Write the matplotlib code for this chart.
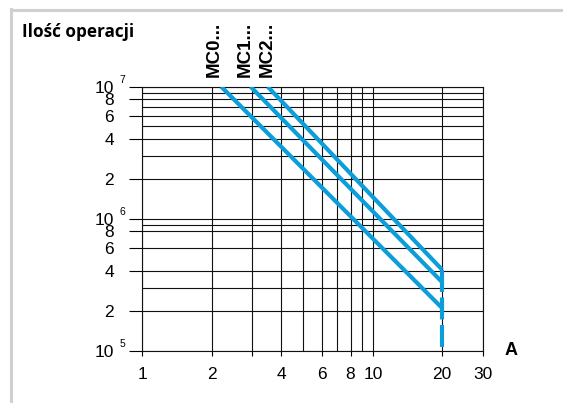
#!/usr/bin/env python
# coding=utf-8

import matplotlib
matplotlib.use("Agg")
import matplotlib.pyplot as plt
from matplotlib.lines import Line2D

plt.rcParams['lines.scale_dashes'] = False

# curve data (current in A, number of operations)
series = ["MC0...", "MC1...", "MC2..."]
current_start = [2.2, 2.95, 3.5]
ops_start = [1e7, 1e7, 1e7]
current_end = [20, 20, 20]
ops_end = [2.1e5, 3.3e5, 4.1e5]

# dashed drop at the rated current
drop_current = [20, 20]
drop_ops = [4.1e5, 1e5]

# axis ticks
x_major = [1, 2, 3, 4, 6, 8, 10, 20, 30]
x_labels = ["1", "2", "", "4", "6", "8", "10", "20", "30"]
x_minor = [5, 7, 9]
y_major = [1e5, 2e5, 4e5, 6e5, 8e5, 1e6, 2e6, 4e6, 6e6, 8e6, 1e7]
y_labels = ["10", "2", "4", "6", "8", "10", "2", "4", "6", "8", "10"]
y_minor = [3e5, 9e5, 3e6, 5e6, 7e6, 9e6]
y_powers = {1e5: "5", 1e6: "6", 1e7: "7"}

BLUE = "#0c9ddb"
FONT = "Liberation Sans"

fig = plt.figure(figsize=(5.63, 4.03), dpi=100)
ax = fig.add_axes([0.2528, 0.1298, 0.6048, 0.6551])
ax.set_xscale("log")
ax.set_yscale("log")
ax.set_xlim(1, 30)
ax.set_ylim(1e5, 1e7)

ax.set_xticks(x_major)
ax.set_xticklabels(x_labels)
ax.set_xticks(x_minor, minor=True)
ax.set_yticks(y_major)
ax.set_yticklabels(y_labels)
ax.set_yticks(y_minor, minor=True)
ax.tick_params(axis="x", which="major", direction="out", length=3.6, width=0.8,
               pad=8.5, labelsize=12.5)
ax.tick_params(axis="y", which="major", direction="out", length=9.4, width=0.8,
               pad=11, labelsize=12.5)
ax.tick_params(which="minor", length=0)
for lab in ax.get_xticklabels() + ax.get_yticklabels():
    lab.set_family(FONT)

ax.grid(True, which="both", color="#111111", linewidth=0.8)
for sp in ax.spines.values():
    sp.set_color("#111111")
    sp.set_linewidth(0.8)

# exponents for the powers of ten
for val, p in y_powers.items():
    ax.annotate(p, xy=(0, val), xycoords=("axes fraction", "data"),
                xytext=(-16.2, 2.6), textcoords="offset points",
                ha="left", va="baseline", fontsize=7.5, family=FONT)

for name, x0, y0, x1, y1 in zip(series, current_start, ops_start,
                                current_end, ops_end):
    ax.plot([x0, x1], [y0, y1], color=BLUE, linewidth=3.0,
            solid_capstyle="butt", zorder=5)

off = {"MC0...": -5.4, "MC1...": -3.6, "MC2...": 0}
for name, x0, y0 in zip(series, current_start, ops_start):
    ax.annotate(name, xy=(x0, y0), xytext=(off[name], 7),
                textcoords="offset points", rotation=90, ha="center",
                va="bottom", fontsize=13.5, fontweight="bold",
                family=FONT, annotation_clip=False)

ax.plot(drop_current, drop_ops, color=BLUE, linewidth=3.0,
        dashes=(15.8, 4.0), dash_capstyle="butt", zorder=5)

ax.annotate("A", xy=(1, 1e5), xycoords=("axes fraction", "data"),
            xytext=(20.3, 0), textcoords="offset points", ha="center",
            va="center", fontsize=13, fontweight="bold",
            family=FONT, annotation_clip=False)

fig.text(22 / 563, 1 - 37.3 / 403, "Ilość operacji", ha="left",
         va="baseline", fontsize=12.3, fontweight="bold",
         family=["Open Sans", "DejaVu Sans"])

# light grey frame (top and left edges)
fig.add_artist(Line2D([10.5 / 563, 1], [1 - 10.3 / 403] * 2,
                      transform=fig.transFigure, color="#d0d0d0", linewidth=2.2))
fig.add_artist(Line2D([10.5 / 563] * 2, [0, 1 - 9 / 403],
                      transform=fig.transFigure, color="#d0d0d0", linewidth=2.2))

fig.savefig("out.png", dpi=100)
